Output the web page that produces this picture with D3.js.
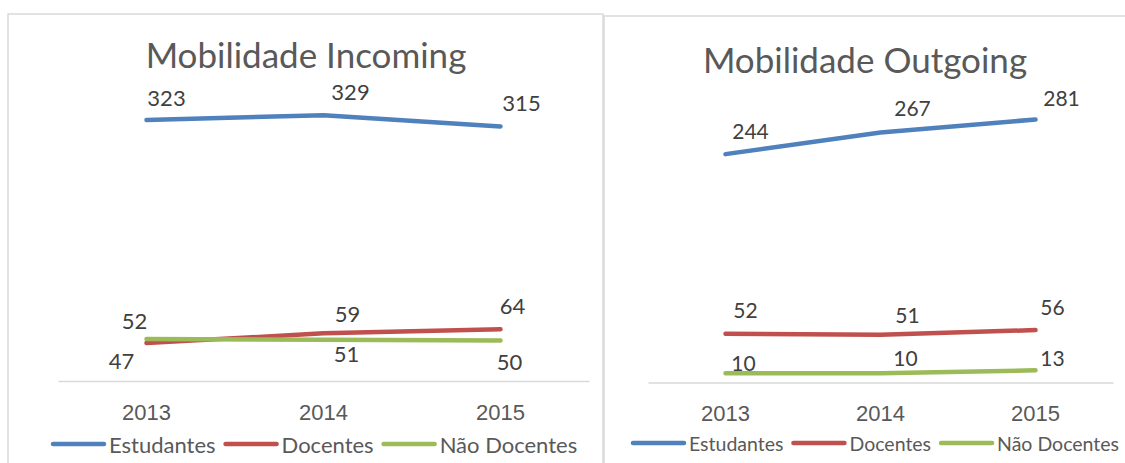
<!DOCTYPE html>
<html>
<head>
<meta charset="utf-8">
<script src="https://cdn.jsdelivr.net/npm/d3@7"></script>
<style>
  body { margin: 0; background: #fff; }
  svg { display: block; font-family: Lato, "Open Sans", sans-serif; }
  .axis .domain { stroke: #d9d9d9; stroke-width: 1.5; }
  .axis text { fill: #595959; }
</style>
</head>
<body>
<svg id="chart" width="1125" height="463"></svg>
<script>
// data
const years = ["2013", "2014", "2015"];
const seriesNames = ["Estudantes", "Docentes", "Não Docentes"];
const seriesColors = ["#4f81bd", "#c0504d", "#9bbb59"];

const incomingEstudantes = [323, 329, 315];
const incomingDocentes = [47, 59, 64];
const incomingNaoDocentes = [52, 51, 50];

const outgoingEstudantes = [244, 267, 281];
const outgoingDocentes = [52, 51, 56];
const outgoingNaoDocentes = [10, 10, 13];

// label placement (manual, like in the original workbook)
const incomingLabelShift = [
  [[20, -23], [27, -24], [21, -24]],
  [[-25, 17], [24, -20], [12, -24]],
  [[-12, -18], [23, 14], [9, 21]]
];
const outgoingLabelShift = [
  [[25, -24], [32, -25], [26, -22]],
  [[20, -24], [27, -20], [17, -24]],
  [[18, -11], [25, -16], [17, -13]]
];

const svg = d3.select("svg#chart");

function drawPanel(p) {
  let g = svg.append("g").attr("class", "panel");

  // frame
  g.append("rect")
   .attr("x", p.box[0]).attr("y", p.box[1])
   .attr("width", p.box[2]).attr("height", p.box[3])
   .attr("fill", "#fff")
   .attr("stroke", "#d9d9d9")
   .attr("stroke-width", 1.5);

  g.append("text")
   .attr("x", p.titleX).attr("y", p.titleY)
   .attr("text-anchor", "middle")
   .attr("fill", "#595959")
   .style("font-size", p.titleSize + "px")
   .text(p.title);

  const x = d3.scaleBand().domain(years).range(p.xRange).padding(0);
  const y = d3.scaleLinear().domain(p.yDomain).range(p.yRange);
  const cx = d => x(d) + x.bandwidth() / 2;

  let axis = d3.axisBottom(x).tickSize(0).tickSizeOuter(0).tickPadding(23);
  g.append("g")
   .attr("class", "axis")
   .attr("transform", "translate(0," + y(0) + ")")
   .call(axis)
   .call(a => a.selectAll("text").style("font-size", "22px").attr("font-family", null));

  const line = d3.line()
                 .x((d, i) => cx(years[i]))
                 .y(d => y(d));

  p.series.forEach((vals, s) => {
    g.append("path")
     .datum(vals)
     .attr("d", line)
     .attr("fill", "none")
     .attr("stroke", seriesColors[s])
     .attr("stroke-width", 4.5)
     .attr("stroke-linecap", "round")
     .attr("stroke-linejoin", "round");
  });

  p.series.forEach((vals, s) => {
    g.append("g").selectAll("text").data(vals)
     .join("text")
     .attr("x", (d, i) => cx(years[i]) + p.shift[s][i][0])
     .attr("y", (d, i) => y(d) + p.shift[s][i][1])
     .attr("text-anchor", "middle")
     .attr("dominant-baseline", "central")
     .attr("fill", "#404040")
     .style("font-size", p.labelSize + "px")
     .text(d => d);
  });

  // legend
  let lg = g.append("g").attr("transform", "translate(" + p.legendX + "," + p.legendY + ")");
  let pos = 0;
  seriesNames.forEach((name, s) => {
    lg.append("line")
      .attr("x1", pos + 2).attr("x2", pos + 53)
      .attr("y1", 0).attr("y2", 0)
      .attr("stroke", seriesColors[s])
      .attr("stroke-width", 4.5)
      .attr("stroke-linecap", "round");
    let t = lg.append("text")
      .attr("x", pos + 58).attr("y", 0)
      .attr("dominant-baseline", "central")
      .attr("fill", "#595959")
      .style("font-size", p.legendSize + "px")
      .text(name);
    pos += 58 + t.node().getComputedTextLength() + 8;
  });
}

drawPanel({
  box: [8, 14, 595, 470],
  title: "Mobilidade Incoming", titleX: 306, titleY: 68, titleSize: 35,
  xRange: [58, 589], yDomain: [0, 350], yRange: [381, 98.2],
  series: [incomingEstudantes, incomingDocentes, incomingNaoDocentes],
  shift: incomingLabelShift, labelSize: 22,
  legendX: 51, legendY: 444, legendSize: 22
});

drawPanel({
  box: [604, 16, 540, 470],
  title: "Mobilidade Outgoing", titleX: 865, titleY: 73, titleSize: 35,
  xRange: [648, 1113], yDomain: [0, 300], yRange: [382.5, 101.7],
  series: [outgoingEstudantes, outgoingDocentes, outgoingNaoDocentes],
  shift: outgoingLabelShift, labelSize: 21,
  legendX: 631, legendY: 443, legendSize: 19.5
});
</script>
</body>
</html>
